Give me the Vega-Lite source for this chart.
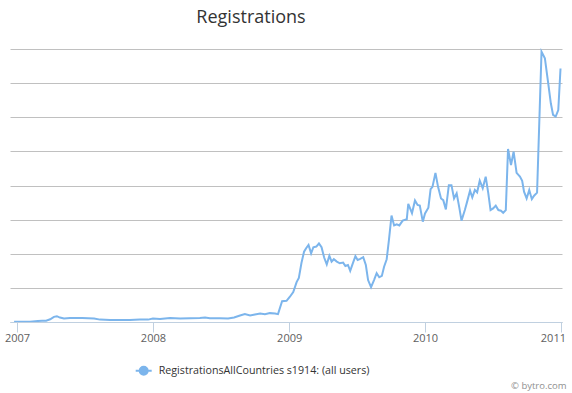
{
  "$schema": "https://vega.github.io/schema/vega-lite/v6.json",
  "autosize": "none",
  "width": 552,
  "height": 273,
  "padding": {"left": 10, "top": 49, "right": 10, "bottom": 71},
  "background": "white",
  "title": {"text": "Registrations", "anchor": "middle", "dx": -35, "offset": 7, "baseline": "alphabetic", "font": "Open Sans", "fontSize": 18, "fontWeight": "normal", "color": "#333333"},
  "config": {"view": {"stroke": null}, "font": "Open Sans"},
  "data": {"values": [
    {"date": "2006-12-24", "registrations": 1},
    {"date": "2007-02-05", "registrations": 1},
    {"date": "2007-02-26", "registrations": 3},
    {"date": "2007-03-09", "registrations": 4},
    {"date": "2007-03-20", "registrations": 4},
    {"date": "2007-03-31", "registrations": 8},
    {"date": "2007-04-10", "registrations": 15},
    {"date": "2007-04-18", "registrations": 17},
    {"date": "2007-04-26", "registrations": 13},
    {"date": "2007-05-07", "registrations": 10},
    {"date": "2007-05-23", "registrations": 12},
    {"date": "2007-06-08", "registrations": 12},
    {"date": "2007-06-25", "registrations": 12},
    {"date": "2007-07-11", "registrations": 11},
    {"date": "2007-07-27", "registrations": 10},
    {"date": "2007-08-12", "registrations": 7},
    {"date": "2007-09-08", "registrations": 6},
    {"date": "2007-10-05", "registrations": 6},
    {"date": "2007-10-31", "registrations": 6},
    {"date": "2007-11-27", "registrations": 7},
    {"date": "2007-12-19", "registrations": 7},
    {"date": "2008-01-01", "registrations": 10},
    {"date": "2008-01-20", "registrations": 9},
    {"date": "2008-02-16", "registrations": 12},
    {"date": "2008-03-14", "registrations": 10},
    {"date": "2008-04-10", "registrations": 11},
    {"date": "2008-05-06", "registrations": 12},
    {"date": "2008-05-20", "registrations": 13},
    {"date": "2008-06-02", "registrations": 11},
    {"date": "2008-06-29", "registrations": 11},
    {"date": "2008-07-21", "registrations": 10},
    {"date": "2008-08-06", "registrations": 13},
    {"date": "2008-08-22", "registrations": 19},
    {"date": "2008-09-04", "registrations": 23},
    {"date": "2008-09-18", "registrations": 19},
    {"date": "2008-10-01", "registrations": 22},
    {"date": "2008-10-15", "registrations": 25},
    {"date": "2008-10-28", "registrations": 23},
    {"date": "2008-11-10", "registrations": 26},
    {"date": "2008-11-24", "registrations": 25},
    {"date": "2008-12-02", "registrations": 23},
    {"date": "2008-12-13", "registrations": 61},
    {"date": "2008-12-25", "registrations": 62},
    {"date": "2009-01-03", "registrations": 74},
    {"date": "2009-01-12", "registrations": 88},
    {"date": "2009-01-21", "registrations": 117},
    {"date": "2009-01-27", "registrations": 129},
    {"date": "2009-02-03", "registrations": 173},
    {"date": "2009-02-10", "registrations": 206},
    {"date": "2009-02-16", "registrations": 217},
    {"date": "2009-02-22", "registrations": 226},
    {"date": "2009-03-01", "registrations": 201},
    {"date": "2009-03-07", "registrations": 219},
    {"date": "2009-03-15", "registrations": 221},
    {"date": "2009-03-22", "registrations": 230},
    {"date": "2009-03-29", "registrations": 219},
    {"date": "2009-04-05", "registrations": 189},
    {"date": "2009-04-12", "registrations": 169},
    {"date": "2009-04-19", "registrations": 194},
    {"date": "2009-04-25", "registrations": 177},
    {"date": "2009-05-01", "registrations": 184},
    {"date": "2009-05-09", "registrations": 177},
    {"date": "2009-05-17", "registrations": 172},
    {"date": "2009-05-26", "registrations": 174},
    {"date": "2009-06-01", "registrations": 164},
    {"date": "2009-06-08", "registrations": 167},
    {"date": "2009-06-14", "registrations": 150},
    {"date": "2009-06-21", "registrations": 172},
    {"date": "2009-06-28", "registrations": 193},
    {"date": "2009-07-04", "registrations": 182},
    {"date": "2009-07-11", "registrations": 185},
    {"date": "2009-07-19", "registrations": 190},
    {"date": "2009-07-26", "registrations": 167},
    {"date": "2009-08-01", "registrations": 123},
    {"date": "2009-08-09", "registrations": 102},
    {"date": "2009-08-17", "registrations": 123},
    {"date": "2009-08-24", "registrations": 143},
    {"date": "2009-08-31", "registrations": 131},
    {"date": "2009-09-07", "registrations": 135},
    {"date": "2009-09-13", "registrations": 162},
    {"date": "2009-09-20", "registrations": 184},
    {"date": "2009-09-26", "registrations": 240},
    {"date": "2009-10-03", "registrations": 312},
    {"date": "2009-10-10", "registrations": 283},
    {"date": "2009-10-17", "registrations": 286},
    {"date": "2009-10-24", "registrations": 283},
    {"date": "2009-11-02", "registrations": 297},
    {"date": "2009-11-13", "registrations": 301},
    {"date": "2009-11-17", "registrations": 346},
    {"date": "2009-11-27", "registrations": 319},
    {"date": "2009-12-05", "registrations": 356},
    {"date": "2009-12-12", "registrations": 343},
    {"date": "2009-12-18", "registrations": 341},
    {"date": "2009-12-26", "registrations": 294},
    {"date": "2010-01-01", "registrations": 318},
    {"date": "2010-01-10", "registrations": 335},
    {"date": "2010-01-16", "registrations": 389},
    {"date": "2010-01-21", "registrations": 396},
    {"date": "2010-01-29", "registrations": 437},
    {"date": "2010-02-05", "registrations": 396},
    {"date": "2010-02-13", "registrations": 362},
    {"date": "2010-02-19", "registrations": 357},
    {"date": "2010-02-26", "registrations": 330},
    {"date": "2010-03-06", "registrations": 401},
    {"date": "2010-03-13", "registrations": 401},
    {"date": "2010-03-20", "registrations": 362},
    {"date": "2010-03-27", "registrations": 377},
    {"date": "2010-04-03", "registrations": 336},
    {"date": "2010-04-09", "registrations": 297},
    {"date": "2010-04-18", "registrations": 328},
    {"date": "2010-04-24", "registrations": 352},
    {"date": "2010-05-02", "registrations": 385},
    {"date": "2010-05-08", "registrations": 365},
    {"date": "2010-05-15", "registrations": 387},
    {"date": "2010-05-21", "registrations": 380},
    {"date": "2010-05-28", "registrations": 414},
    {"date": "2010-06-05", "registrations": 392},
    {"date": "2010-06-13", "registrations": 426},
    {"date": "2010-06-20", "registrations": 377},
    {"date": "2010-06-26", "registrations": 328},
    {"date": "2010-07-03", "registrations": 333},
    {"date": "2010-07-10", "registrations": 341},
    {"date": "2010-07-17", "registrations": 328},
    {"date": "2010-07-24", "registrations": 326},
    {"date": "2010-07-30", "registrations": 320},
    {"date": "2010-08-06", "registrations": 328},
    {"date": "2010-08-12", "registrations": 507},
    {"date": "2010-08-20", "registrations": 460},
    {"date": "2010-08-27", "registrations": 499},
    {"date": "2010-09-04", "registrations": 437},
    {"date": "2010-09-13", "registrations": 426},
    {"date": "2010-09-19", "registrations": 414},
    {"date": "2010-09-24", "registrations": 382},
    {"date": "2010-10-01", "registrations": 362},
    {"date": "2010-10-08", "registrations": 387},
    {"date": "2010-10-15", "registrations": 360},
    {"date": "2010-10-21", "registrations": 370},
    {"date": "2010-10-29", "registrations": 379},
    {"date": "2010-11-10", "registrations": 792},
    {"date": "2010-11-19", "registrations": 773},
    {"date": "2010-11-28", "registrations": 699},
    {"date": "2010-12-05", "registrations": 641},
    {"date": "2010-12-11", "registrations": 607},
    {"date": "2010-12-18", "registrations": 602},
    {"date": "2010-12-25", "registrations": 621},
    {"date": "2010-12-31", "registrations": 743}
  ]},
  "mark": {"type": "line", "strokeWidth": 2, "interpolate": "linear"},
  "encoding": {
    "x": {
      "field": "date",
      "type": "temporal",
      "scale": {"type": "utc", "domain": [{"year": 2006, "month": 12, "date": 13, "utc": true}, {"year": 2011, "month": 1, "date": 4, "utc": true}]},
      "axis": {
        "values": [{"year": 2007, "utc": true}, {"year": 2008, "utc": true}, {"year": 2009, "utc": true}, {"year": 2010, "utc": true}, {"year": 2011, "utc": true}],
        "format": "%Y",
        "grid": false,
        "domainColor": "#C0D0E0",
        "tickColor": "#C0D0E0",
        "tickSize": 10,
        "labelColor": "#606060",
        "labelFont": "Open Sans",
        "labelFontSize": 11,
        "labelPadding": 0,
        "labelFlush": false,
        "labelOffset": {"condition": {"test": "utcyear(datum.value) == 2011", "value": -8}, "value": 0},
        "zindex": 1,
        "title": "© bytro.com",
        "titleAnchor": "end",
        "titleAlign": "right",
        "titleX": 556,
        "titleY": 66,
        "titleBaseline": "alphabetic",
        "titleFont": "Open Sans",
        "titleFontSize": 9.5,
        "titleFontWeight": "normal",
        "titleColor": "#909090"
      }
    },
    "y": {
      "field": "registrations",
      "type": "quantitative",
      "scale": {"domain": [0, 800], "nice": false},
      "axis": {
        "values": [0, 100, 200, 300, 400, 500, 600, 700, 800],
        "labels": false,
        "ticks": false,
        "domain": false,
        "title": null,
        "grid": true,
        "gridColor": "#C0C0C0",
        "gridWidth": 1
      }
    },
    "color": {
      "datum": "RegistrationsAllCountries s1914: (all users)",
      "scale": {"range": ["#7cb5ec"]},
      "legend": {
        "orient": "none",
        "legendX": 124.7,
        "legendY": 312.7,
        "title": null,
        "padding": 0,
        "symbolType": "M-1,0L1,0M-0.5,0A0.5,0.5,0,1,0,0.5,0A0.5,0.5,0,1,0,-0.5,0Z",
        "symbolSize": 256,
        "symbolStrokeWidth": 2,
        "symbolStrokeColor": "#7cb5ec",
        "symbolFillColor": "#7cb5ec",
        "labelFont": "Open Sans",
        "labelFontSize": 10.7,
        "labelColor": "#333333",
        "labelOffset": 6,
        "labelLimit": 400
      }
    }
  }
}
